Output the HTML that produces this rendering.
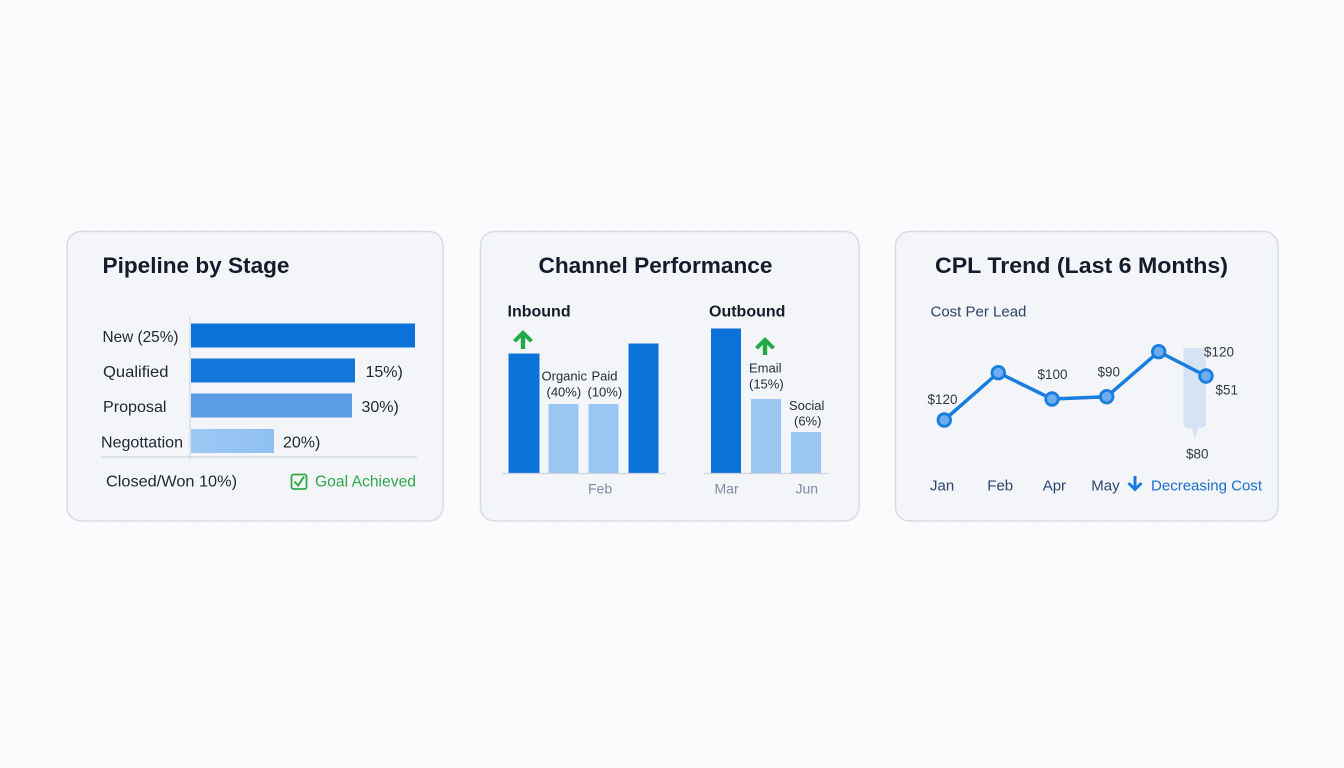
<!DOCTYPE html>
<html><head><meta charset="utf-8"><style>
html,body{margin:0;padding:0;background:#fbfbfd;}
svg{display:block;}
text{font-family:"Liberation Sans",Arial,sans-serif;}
</style></head><body>
<svg width="1344" height="768" viewBox="0 0 1344 768" xmlns="http://www.w3.org/2000/svg">
<defs>
<pattern id="dots" x="2" y="14" width="15" height="15" patternUnits="userSpaceOnUse">
<circle cx="0" cy="0" r="0.9" fill="#e2e5ea"/>
</pattern>
<linearGradient id="neg" x1="0" y1="0" x2="1" y2="0">
<stop offset="0" stop-color="#9cc8f4"/><stop offset="1" stop-color="#8fc0f2"/>
</linearGradient>
</defs>
<rect width="1344" height="768" fill="#fbfbfd"/>
<rect width="1344" height="768" fill="url(#dots)"/>

<!-- Card 1 -->
<rect x="67" y="231.5" width="376" height="289.5" rx="14" fill="#f3f5f8" stroke="#d6dbe4" stroke-width="1.5"/>
<text x="102.5" y="273" font-size="22.5" font-weight="bold" fill="#141c2b" textLength="187" lengthAdjust="spacingAndGlyphs">Pipeline by Stage</text>
<line x1="190" y1="317" x2="190" y2="460" stroke="#d3d8e0" stroke-width="1.2"/>
<rect x="191" y="323.5" width="224" height="24" fill="#0a72d8"/>
<rect x="191" y="358.5" width="164" height="24" fill="#1577db"/>
<rect x="191" y="393.5" width="161" height="24" fill="#5a9de6"/>
<rect x="191" y="429" width="83" height="24" fill="url(#neg)"/>
<line x1="101" y1="457" x2="417" y2="457" stroke="#cfd5de" stroke-width="1.2"/>
<g font-size="16" fill="#1f2633">
<text x="102.5" y="342" textLength="76" lengthAdjust="spacingAndGlyphs">New (25%)</text>
<text x="103" y="377" textLength="65.5" lengthAdjust="spacingAndGlyphs">Qualified</text>
<text x="103" y="412" textLength="63.5" lengthAdjust="spacingAndGlyphs">Proposal</text>
<text x="101" y="447.5" textLength="82" lengthAdjust="spacingAndGlyphs">Negottation</text>
<text x="365.5" y="377">15%)</text>
<text x="361.5" y="412">30%)</text>
<text x="283" y="447.5">20%)</text>
<text x="106" y="486.5" textLength="131" lengthAdjust="spacingAndGlyphs">Closed/Won 10%)</text>
</g>
<rect x="291.5" y="474.5" width="15" height="14.5" rx="2" fill="none" stroke="#2fa84a" stroke-width="1.8"/>
<path d="M294.5 481.5 L298.2 485.5 L304 476.5" fill="none" stroke="#2fa84a" stroke-width="2"/>
<text x="315" y="486.5" font-size="15.5" fill="#2fa84a" textLength="101" lengthAdjust="spacingAndGlyphs">Goal Achieved</text>

<!-- Card 2 -->
<rect x="480.5" y="231.5" width="378.5" height="289.5" rx="14" fill="#f3f5f8" stroke="#d6dbe4" stroke-width="1.5"/>
<text x="538.5" y="273" font-size="22.5" font-weight="bold" fill="#141c2b" textLength="234" lengthAdjust="spacingAndGlyphs">Channel Performance</text>
<text x="507.5" y="316.5" font-size="16" font-weight="bold" fill="#141c2b">Inbound</text>
<text x="709" y="316.5" font-size="16" font-weight="bold" fill="#141c2b">Outbound</text>
<rect x="508.5" y="353.5" width="31" height="120" fill="#0a72d8"/>
<rect x="548.5" y="404" width="30" height="69.5" fill="#9ac6f3"/>
<rect x="588.5" y="404" width="30" height="69.5" fill="#9ac6f3"/>
<rect x="628.5" y="343.5" width="30" height="130" fill="#0a72d8"/>
<line x1="502" y1="473.5" x2="666" y2="473.5" stroke="#cfd5de" stroke-width="1.2"/>
<rect x="711" y="328.5" width="30" height="145" fill="#0a72d8"/>
<rect x="751" y="399" width="30" height="74.5" fill="#9ac6f3"/>
<rect x="791" y="432" width="30" height="41.5" fill="#9ac6f3"/>
<line x1="704" y1="473.5" x2="828" y2="473.5" stroke="#cfd5de" stroke-width="1.2"/>
<!-- green arrows -->
<path d="M523 330 L533 340 L530 342.5 L525.2 337.7 L525.2 349 L520.8 349 L520.8 337.7 L516 342.5 L513 340 Z" fill="#22a845"/>
<path d="M765 337 L775 347 L772 349.5 L767.2 344.7 L767.2 355 L762.8 355 L762.8 344.7 L758 349.5 L755 347 Z" fill="#22a845"/>
<g font-size="13" fill="#252b36">
<text x="541.5" y="380.5">Organic</text>
<text x="546.5" y="396.5">(40%)</text>
<text x="591.5" y="380.5">Paid</text>
<text x="587.5" y="396.5">(10%)</text>
<text x="749" y="372.3">Email</text>
<text x="749" y="388.3">(15%)</text>
<text x="789" y="410">Social</text>
<text x="794" y="425.7">(6%)</text>
</g>
<g font-size="14" fill="#7d8ca3">
<text x="588" y="493.5">Feb</text>
<text x="714.5" y="493.5">Mar</text>
<text x="795.5" y="493.5">Jun</text>
</g>

<!-- Card 3 -->
<rect x="895.5" y="231.5" width="382.5" height="289.5" rx="14" fill="#f3f5f8" stroke="#d6dbe4" stroke-width="1.5"/>
<text x="935" y="273" font-size="22.5" font-weight="bold" fill="#141c2b" textLength="293" lengthAdjust="spacingAndGlyphs">CPL Trend (Last 6 Months)</text>
<text x="930.5" y="316.5" font-size="15" fill="#2c4466">Cost Per Lead</text>
<!-- shaded bar -->
<path d="M1183.5 348 L1206 348 L1206 425 L1203 428 L1198 428 L1195 440 L1192 428 L1186.5 428 L1183.5 425 Z" fill="#d5e3f4"/>
<polyline points="944.3,420 998.3,372.7 1052,399 1106.7,396.7 1158.7,351.7 1206,376" fill="none" stroke="#1a7ee0" stroke-width="3.5" stroke-linejoin="round"/>
<g fill="#6eacf0" stroke="#1a7ee0" stroke-width="2.8">
<circle cx="944.3" cy="420" r="6.3"/>
<circle cx="998.3" cy="372.7" r="6.3"/>
<circle cx="1052" cy="399" r="6.3"/>
<circle cx="1106.7" cy="396.7" r="6.3"/>
<circle cx="1158.7" cy="351.7" r="6.3"/>
<circle cx="1206" cy="376" r="6.3"/>
</g>
<g font-size="13.5" fill="#333a45">
<text x="927.5" y="404">$120</text>
<text x="1037.5" y="379">$100</text>
<text x="1097.5" y="376.7">$90</text>
<text x="1204" y="356.7">$120</text>
<text x="1215.5" y="394.3">$51</text>
<text x="1186" y="458.3">$80</text>
</g>
<g font-size="15" fill="#2a4470">
<text x="930" y="490.7">Jan</text>
<text x="987.3" y="490.7">Feb</text>
<text x="1042.7" y="490.7">Apr</text>
<text x="1091.3" y="490.7">May</text>
</g>
<path d="M1133.5 476 L1136.5 476 L1136.5 486 L1140.5 482 L1142.5 484 L1135 491.5 L1127.5 484 L1129.5 482 L1133.5 486 Z" fill="#1a78de"/>
<text x="1151" y="490.5" font-size="15" fill="#1a6fd0" textLength="111" lengthAdjust="spacingAndGlyphs">Decreasing Cost</text>
</svg>
</body></html>
